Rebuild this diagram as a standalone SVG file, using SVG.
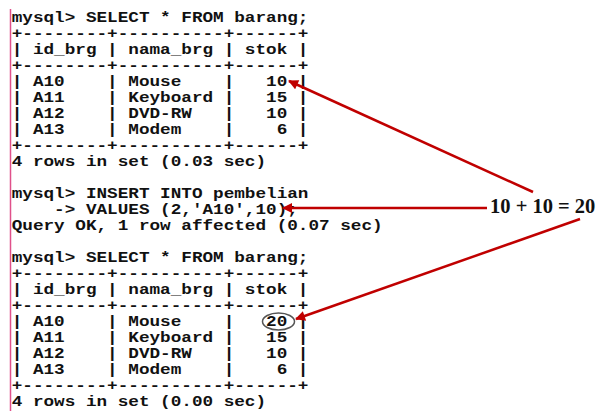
<svg xmlns="http://www.w3.org/2000/svg" width="602" height="411" viewBox="0 0 602 411">
<style>
.t{font-family:"Liberation Mono","DejaVu Sans Mono",monospace;font-weight:bold;font-size:14.5px;fill:#111;white-space:pre}
.lbl{font-family:"Liberation Serif","Times New Roman",serif;font-weight:bold;font-size:20.5px;fill:#111}
.ar{stroke:#c00000;stroke-width:2.5;fill:none;marker-end:url(#ah)}
</style>
<defs>
<marker id="ah" viewBox="0 0 10 10" refX="9" refY="5" markerWidth="4.4" markerHeight="4" orient="auto" markerUnits="strokeWidth">
<path d="M0,0 L10,5 L0,10 Z" fill="#c00000"/>
</marker>
</defs>
<rect width="602" height="411" fill="#fff"/>
<line x1="10.5" y1="9" x2="10.5" y2="411" stroke="#e0508a" stroke-width="1.5"/>
<g transform="translate(11.7,0) scale(1.2184,1)">
<g id="query1">
<text class="t" x="0" y="22">mysql&gt; SELECT * FROM barang;</text>
<text class="t" x="0" y="38">+--------+----------+------+</text>
<text class="t" x="0" y="54">| id_brg | nama_brg | stok |</text>
<text class="t" x="0" y="70">+--------+----------+------+</text>
<text class="t" x="0" y="86">| A10    | Mouse    |   10 |</text>
<text class="t" x="0" y="102">| A11    | Keyboard |   15 |</text>
<text class="t" x="0" y="118">| A12    | DVD-RW   |   10 |</text>
<text class="t" x="0" y="134">| A13    | Modem    |    6 |</text>
<text class="t" x="0" y="150">+--------+----------+------+</text>
<text class="t" x="0" y="166">4 rows in set (0.03 sec)</text>
</g>
<g id="insert">
<text class="t" x="0" y="198">mysql&gt; INSERT INTO pembelian</text>
<text class="t" x="0" y="214">    -&gt; VALUES (2,'A10',10);</text>
<text class="t" x="0" y="230">Query OK, 1 row affected (0.07 sec)</text>
</g>
<g id="query2">
<text class="t" x="0" y="262">mysql&gt; SELECT * FROM barang;</text>
<text class="t" x="0" y="278">+--------+----------+------+</text>
<text class="t" x="0" y="294">| id_brg | nama_brg | stok |</text>
<text class="t" x="0" y="310">+--------+----------+------+</text>
<text class="t" x="0" y="326">| A10    | Mouse    |   20 |</text>
<text class="t" x="0" y="342">| A11    | Keyboard |   15 |</text>
<text class="t" x="0" y="358">| A12    | DVD-RW   |   10 |</text>
<text class="t" x="0" y="374">| A13    | Modem    |    6 |</text>
<text class="t" x="0" y="390">+--------+----------+------+</text>
<text class="t" x="0" y="406">4 rows in set (0.00 sec)</text>
</g>
</g>
<g id="highlight">
<ellipse cx="278.5" cy="321.5" rx="16" ry="8.5" fill="none" stroke="#555" stroke-width="1.5"/>
</g>
<g id="label">
<text class="lbl" x="490" y="213">10 + 10 = 20</text>
</g>
<g id="connectors">
<line class="ar" x1="533" y1="192" x2="289" y2="81"/>
<line class="ar" x1="487" y1="208" x2="283" y2="208"/>
<line class="ar" x1="580" y1="219" x2="296" y2="319"/>
</g>
</svg>
